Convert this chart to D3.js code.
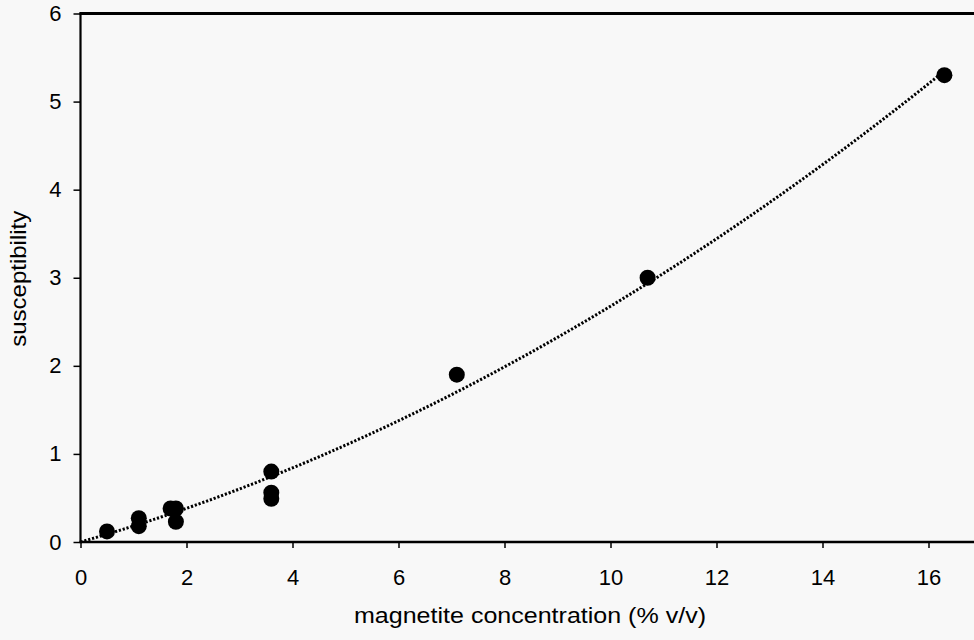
<!DOCTYPE html>
<html>
<head>
<meta charset="utf-8">
<script src="https://cdn.jsdelivr.net/npm/d3@7"></script>
<style>
  html, body { margin: 0; padding: 0; background: #f8f8f8; }
  svg { display: block; }
  text { font-family: "Liberation Sans", Arial, Helvetica, sans-serif; fill: #000; }
</style>
</head>
<body>
<svg id="chart" width="974" height="640"></svg>
<script>
// Measured samples: magnetite concentration (% v/v) vs. magnetic susceptibility
const concentration = [0.5, 1.1, 1.1, 1.7, 1.8, 1.8, 3.6, 3.6, 3.6, 7.1, 10.7, 16.3];
const susceptibility = [0.12, 0.27, 0.18, 0.38, 0.38, 0.23, 0.80, 0.56, 0.49, 1.90, 3.00, 5.30];
const xTicks = [0, 2, 4, 6, 8, 10, 12, 14, 16];
const yTicks = [0, 1, 2, 3, 4, 5, 6];
const xTitle = "magnetite concentration (% v/v)";
const yTitle = "susceptibility";

const W = 974, H = 640;
const plotLeft = 80.5, plotTop = 13.5, plotBottom = 542;

const x = d3.scaleLinear().domain([0, 17]).range([plotLeft, plotLeft + 17 * 53]);
const y = d3.scaleLinear().domain([0, 6]).range([plotBottom, plotTop]);

const svg = d3.select("#chart");

// Second-order trendline through the origin: least squares fit of y = a*x + b*x^2
const pts = concentration.map((c, i) => [c, susceptibility[i]]);
const s = (f) => d3.sum(pts, f);
const sx2 = s(p => p[0] ** 2), sx3 = s(p => p[0] ** 3), sx4 = s(p => p[0] ** 4);
const sxy = s(p => p[0] * p[1]), sx2y = s(p => p[0] ** 2 * p[1]);
const det = sx2 * sx4 - sx3 * sx3;
const a = (sxy * sx4 - sx3 * sx2y) / det;
const b = (sx2 * sx2y - sx3 * sxy) / det;
const xMax = d3.max(concentration);
const trend = d3.range(0, xMax + 1e-9, 0.05).map(v => [v, a * v + b * v * v]);

svg.append("path")
  .datum(trend)
  .attr("fill", "none")
  .attr("stroke", "#000")
  .attr("stroke-width", 3)
  .attr("stroke-dasharray", "2.2 1.8")
  .attr("d", d3.line().x(d => x(d[0])).y(d => y(d[1])));

// Data points
svg.append("g").selectAll("circle")
  .data(pts)
  .join("circle")
  .attr("cx", d => x(d[0]))
  .attr("cy", d => y(d[1]))
  .attr("r", 8)
  .attr("fill", "#000");

// Axes
const xAxis = svg.append("g")
  .attr("transform", `translate(0,${plotBottom})`)
  .call(d3.axisBottom(x).tickValues(xTicks).tickSize(6).tickPadding(21).tickFormat(d3.format("d")));
const yAxis = svg.append("g")
  .attr("transform", `translate(${plotLeft},0)`)
  .call(d3.axisLeft(y).tickValues(yTicks).tickSize(7).tickPadding(12).tickFormat(d3.format("d")));

[xAxis, yAxis].forEach(g => {
  g.select(".domain").remove();
  g.selectAll(".tick line").attr("stroke", "#000").attr("stroke-width", 1.5);
  g.selectAll(".tick text").style("font-size", "22px").attr("fill", "#000");
});

// Frame lines: left axis, bottom axis and top border
svg.append("line").attr("x1", plotLeft).attr("x2", plotLeft).attr("y1", plotTop - 1).attr("y2", plotBottom + 1)
  .attr("stroke", "#000").attr("stroke-width", 2.2);
svg.append("line").attr("x1", plotLeft - 1).attr("x2", W).attr("y1", plotBottom).attr("y2", plotBottom)
  .attr("stroke", "#000").attr("stroke-width", 2.6);
svg.append("line").attr("x1", plotLeft - 1).attr("x2", W).attr("y1", plotTop).attr("y2", plotTop)
  .attr("stroke", "#000").attr("stroke-width", 2.8);

// Axis titles (the face is set slightly wide, as in the printed figure)
svg.append("text")
  .attr("x", 530)
  .attr("y", 623)
  .attr("text-anchor", "middle")
  .attr("textLength", 352)
  .attr("lengthAdjust", "spacingAndGlyphs")
  .style("font-size", "21.5px")
  .text(xTitle);
svg.append("text")
  .attr("transform", `translate(26,${(plotTop + plotBottom) / 2 + 1}) rotate(-90)`)
  .attr("text-anchor", "middle")
  .attr("textLength", 136)
  .attr("lengthAdjust", "spacingAndGlyphs")
  .style("font-size", "21.5px")
  .text(yTitle);
</script>
</body>
</html>
